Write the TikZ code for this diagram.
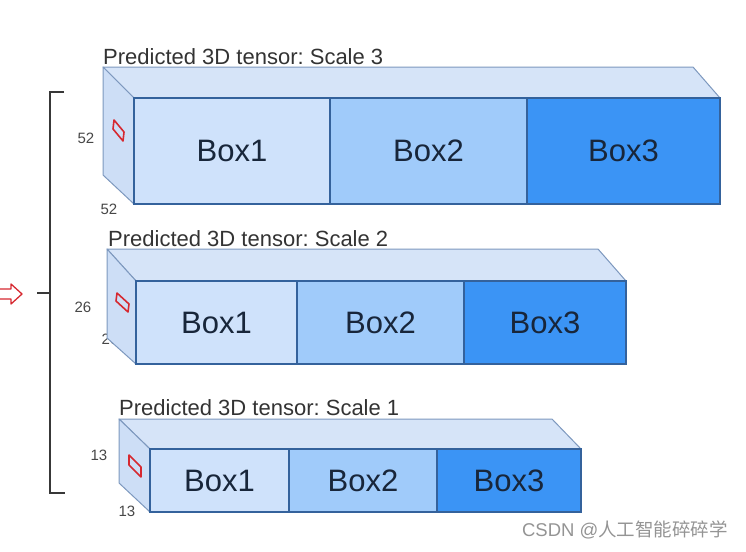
\documentclass[tikz,border=0pt]{standalone}
\usepackage{fontspec}
\setmainfont{Liberation Sans}
\newfontfamily\cjk{Noto Sans CJK SC}
\usepackage{xcolor}
\usetikzlibrary{calc,positioning,backgrounds}
\frenchspacing
\definecolor{boxa}{RGB}{207,226,251}
\definecolor{boxb}{RGB}{160,203,250}
\definecolor{boxc}{RGB}{59,148,245}
\definecolor{topface}{RGB}{214,228,248}
\definecolor{leftface}{RGB}{205,222,246}
\definecolor{frontline}{RGB}{52,98,156}
\definecolor{faceline}{RGB}{125,152,190}
\definecolor{boxtext}{RGB}{24,38,58}
\definecolor{marker}{RGB}{214,40,48}

\begin{document}
\begin{tikzpicture}[
  x=1pt, y=-1pt,
  box/.style={draw=frontline, line width=1.6pt, outer sep=0pt, inner sep=0pt,
              minimum height=#1, text=boxtext, font=\fontsize{31}{31}\selectfont},
  face/.style={draw=faceline, line width=1pt, line join=round},
  title/.style={anchor=base west, inner sep=0pt, text=black!80,
                font=\fontsize{22}{22}\selectfont},
  dim/.style={inner sep=0pt, text=black!72, font=\fontsize{15}{15}\selectfont},
  cellmark/.style={draw=marker, line width=1.6pt, line join=round},
  brace/.style={draw=black!78, line width=2.4pt}
]
\useasboundingbox (0,0) rectangle (746,551);

% scale 3
\node[box=106pt, minimum width=196pt, fill=boxa, anchor=north west] (s3b1) at (134,98) {Box1};
\node[box=106pt, minimum width=197pt, fill=boxb, right=0pt of s3b1] (s3b2) {Box2};
\node[box=106pt, minimum width=193pt, fill=boxc, right=0pt of s3b2] (s3b3) {Box3};
\node[title] (t3) at (103,64) {Predicted 3D tensor: Scale 3};

% scale 2
\node[box=83pt, minimum width=161pt, fill=boxa, anchor=north west] (s2b1) at (136,281) {Box1};
\node[box=83pt, minimum width=167pt, fill=boxb, right=0pt of s2b1] (s2b2) {Box2};
\node[box=83pt, minimum width=162pt, fill=boxc, right=0pt of s2b2] (s2b3) {Box3};
\node[title] (t2) at (108,246) {Predicted 3D tensor: Scale 2};

% scale 1
\node[box=63pt, minimum width=139pt, fill=boxa, anchor=north west] (s1b1) at (150,449) {Box1};
\node[box=63pt, minimum width=148pt, fill=boxb, right=0pt of s1b1] (s1b2) {Box2};
\node[box=63pt, minimum width=144pt, fill=boxc, right=0pt of s1b2] (s1b3) {Box3};
\node[title] (t1) at (119,415) {Predicted 3D tensor: Scale 1};

\begin{scope}[on background layer]
  \node[dim] (d3a) at (86,138) {52};
  \node[dim] (d3b) at (109,209) {52};
  \node[dim] (d2a) at (83,307) {26};
  \node[dim] (d2b) at (110,339) {26};
  \node[dim] (d1a) at (99,455) {13};
  \node[dim] (d1b) at (127,511) {13};

  \draw[face, fill=topface] ($(s3b1.north west)+(-31,-31)$) -- ($(s3b3.north east)+(-27,-31)$)
    -- (s3b3.north east) -- (s3b1.north west) -- cycle;
  \draw[face, fill=leftface] ($(s3b1.north west)+(-31,-31)$) -- (s3b1.north west)
    -- (s3b1.south west) -- ($(s3b1.south west)+(-31,-29)$) -- cycle;

  \draw[face, fill=topface] ($(s2b1.north west)+(-29,-32)$) -- ($(s2b3.north east)+(-28,-32)$)
    -- (s2b3.north east) -- (s2b1.north west) -- cycle;
  \draw[face, fill=leftface] ($(s2b1.north west)+(-29,-32)$) -- (s2b1.north west)
    -- (s2b1.south west) -- ($(s2b1.south west)+(-29,-26)$) -- cycle;

  \draw[face, fill=topface] ($(s1b1.north west)+(-31,-30)$) -- ($(s1b3.north east)+(-29,-30)$)
    -- (s1b3.north east) -- (s1b1.north west) -- cycle;
  \draw[face, fill=leftface] ($(s1b1.north west)+(-31,-30)$) -- (s1b1.north west)
    -- (s1b1.south west) -- ($(s1b1.south west)+(-31,-29)$) -- cycle;
\end{scope}

% anchor cells
\draw[cellmark] (114,120) -- (124,132) -- (123,141) -- (113,129) -- cycle;
\draw[cellmark] (117,293) -- (129,304) -- (128,312) -- (116,301) -- cycle;
\draw[cellmark] (129,455) -- (141,467) -- (141,477) -- (129,465) -- cycle;

% bracket and arrow
\coordinate (bt) at (64,92);
\coordinate (bb) at (65,493);
\coordinate (bm) at (50,293);
\draw[brace] (bt) -- (50,92) -- (50,493) -- (bb);
\draw[brace, line width=2pt] (bm) -- ++(-13,0);
\draw[cellmark, line width=1.3pt] (-3,289) -- (11,289) -- (11,284) -- (22,294)
  -- (11,304) -- (11,299) -- (-3,299) -- cycle;

\node[text=black!42, font=\fontsize{18.5}{18.5}\selectfont] (wm) at (625,530)
  {CSDN @{\cjk 人工智能碎碎学}};
\end{tikzpicture}
\end{document}
